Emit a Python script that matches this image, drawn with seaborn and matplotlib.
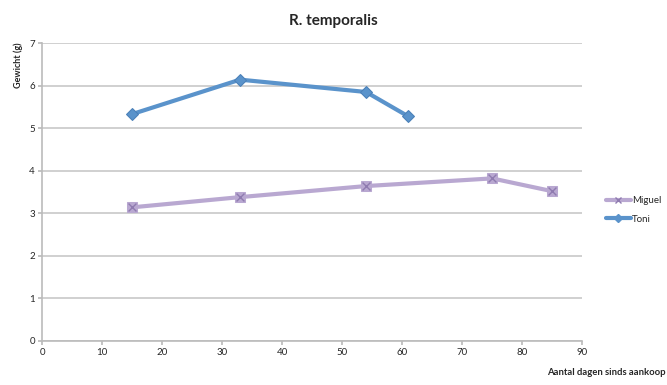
import matplotlib
matplotlib.use("Agg")
import matplotlib.pyplot as plt
import seaborn as sns
import pandas as pd
from matplotlib.lines import Line2D

toni_days = [15, 33, 54, 61]
toni_weight = [5.33, 6.14, 5.85, 5.28]
miguel_days = [15, 33, 54, 75, 85]
miguel_weight = [3.14, 3.38, 3.64, 3.82, 3.52]
x_ticks = [0, 10, 20, 30, 40, 50, 60, 70, 80, 90]
y_ticks = [0, 1, 2, 3, 4, 5, 6, 7]

sns.set_theme(style="white")
plt.rcParams['font.family'] = ['Lato', 'DejaVu Sans']

df_t = pd.DataFrame({"dag": toni_days, "gewicht": toni_weight})
df_m = pd.DataFrame({"dag": miguel_days, "gewicht": miguel_weight})

fig = plt.figure(figsize=(6.67, 3.85), dpi=100)
ax = fig.add_axes([0.063, 0.1143, 0.8097, 0.7739])

toni_c = "#5A93CB"
mig_c = "#B9A8D1"
mig_dark = "#8F7BB0"

sns.lineplot(data=df_m, x="dag", y="gewicht", ax=ax, color=mig_c, linewidth=3,
             marker="s", markersize=7, markerfacecolor=mig_c, markeredgecolor=mig_c)
sns.scatterplot(data=df_m, x="dag", y="gewicht", ax=ax, marker="x", s=32,
                color=mig_dark, linewidth=1.0, zorder=5)
sns.lineplot(data=df_t, x="dag", y="gewicht", ax=ax, color=toni_c, linewidth=3,
             marker="D", markersize=6, markerfacecolor=toni_c, markeredgecolor="#4A80B8")

ax.set_xlim(0, 90)
ax.set_ylim(0, 7)
ax.set_xticks(x_ticks)
ax.set_yticks(y_ticks)
ax.tick_params(axis="both", labelsize=7, length=3, color="#BBBBBB", direction="out", pad=2)
ax.tick_params(axis="x", bottom=True)
ax.tick_params(axis="y", left=True)
ax.yaxis.grid(True, color="#C8C8C8", linewidth=1.2)
ax.xaxis.grid(False)
for s in ["top", "right"]:
    ax.spines[s].set_visible(False)
for s in ["left", "bottom"]:
    ax.spines[s].set_color("#BBBBBB")
    ax.spines[s].set_linewidth(1.2)
ax.set_xlabel("")
ax.set_ylabel("")

fig.text(0.5, 0.945, "R. temporalis", ha="center", va="center", fontsize=11, fontweight="bold")
fig.text(0.027, 0.83, "Gewicht (g)", rotation=90, ha="center", va="center", fontsize=6.5, fontweight="bold")
fig.text(0.998, 0.033, "Aantal dagen sinds aankoop", ha="right", va="center", fontsize=6.8, fontweight="bold")

handles = [
    Line2D([0], [0], color=mig_c, linewidth=3, marker="x", markersize=5,
           markeredgecolor=mig_dark, markerfacecolor=mig_c),
    Line2D([0], [0], color=toni_c, linewidth=3, marker="D", markersize=4,
           markerfacecolor=toni_c, markeredgecolor=toni_c),
]
fig.legend(handles, ["Miguel", "Toni"], loc="center left", bbox_to_anchor=(0.895, 0.455),
           frameon=False, fontsize=7, handlelength=2.6, handletextpad=0.1, labelspacing=1.0)

fig.savefig("out.png", dpi=100)
